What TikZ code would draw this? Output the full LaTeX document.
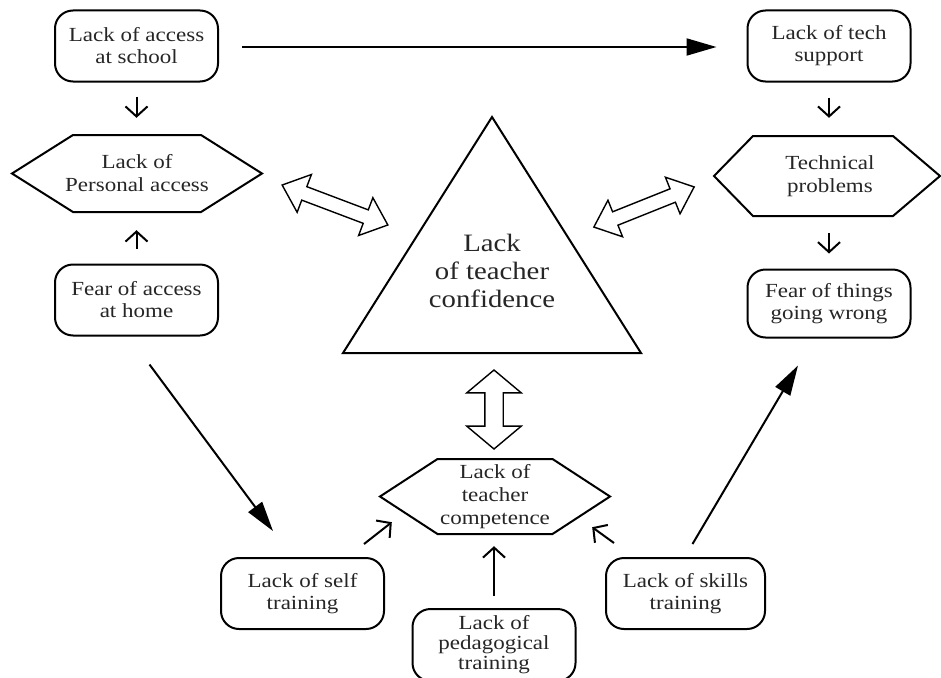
\documentclass[tikz,border=0pt]{standalone}
\usepackage{fontspec}
\setmainfont{Liberation Serif}[FakeStretch=1.15]
\usetikzlibrary{arrows.meta,calc,shapes.arrows}
\definecolor{txt}{HTML}{262626}
\begin{document}
\begin{tikzpicture}[x=1pt,y=-1pt,
  box/.style={draw, line width=2pt, rounded corners=18pt, minimum width=163pt, minimum height=71pt, align=center, font=\fontsize{20}{22}\selectfont, text=txt, inner sep=0pt},
  hextext/.style={align=center, font=\fontsize{20}{23}\selectfont, text=txt, inner sep=0pt},
  hexline/.style={line width=2pt, line join=miter},
  smallarr/.style={line width=2pt, -{Straight Barb[length=10pt,width=22pt]}},
  bigarr/.style={line width=2pt, -{Triangle[length=30pt,width=17pt]}},
  dblarr/.style={double arrow, draw, line width=1.4pt, fill=white, inner xsep=0pt, text width=0pt, text height=0pt, text depth=0pt}
]
\useasboundingbox (0,0) rectangle (941,677);

% rounded boxes
\node[box] (school) at (136.5,46) {Lack of access\\at school};
\node[box] (tech) at (829,46) {Lack of tech\\support};
\node[box] (home) at (136.5,300) {Fear of access\\at home};
\node[box, minimum height=68pt] (fear) at (829,303.5) {Fear of things\\going wrong};
\node[box] (selft) at (302.5,593.5) {Lack of self\\training};
\node[box, minimum width=159pt] (skills) at (685.5,593.5) {Lack of skills\\training};
\node[box, minimum height=72pt, font=\fontsize{20}{20}\selectfont] (ped) at (494,645) {Lack of\\pedagogical\\training};

% hexagons
\node[hextext, minimum width=250pt, minimum height=77pt] (pa) at (137,173.5) {Lack of\\Personal access};
\draw[hexline] ($(pa)+(-125,0)$) -- ($(pa)+(-64,-38.5)$) -- ($(pa)+(64,-38.5)$) -- ($(pa)+(125,0)$) -- ($(pa)+(64,38.5)$) -- ($(pa)+(-64,38.5)$) -- cycle;

\node[hextext, minimum width=226pt, minimum height=80pt] (tp) at (830,176) {Technical\\problems};
\draw[hexline] ($(tp)+(-116,0)$) -- ($(tp)+(-77,-40)$) -- ($(tp)+(63,-40)$) -- ($(tp)+(110,0)$) -- ($(tp)+(63,40)$) -- ($(tp)+(-77,40)$) -- cycle;

\node[hextext, minimum width=230pt, minimum height=75pt] (tc) at (495,496.5) {Lack of\\teacher\\competence};
\draw[hexline] ($(tc)+(-115,0)$) -- ($(tc)+(-57.5,-37.5)$) -- ($(tc)+(57.5,-37.5)$) -- ($(tc)+(115,0)$) -- ($(tc)+(57.5,37.5)$) -- ($(tc)+(-57.5,37.5)$) -- cycle;

% triangle
\coordinate (tA) at (343,353);
\coordinate (tB) at (641,353);
\coordinate (tC) at (492,117);
\draw[hexline] (tA) -- (tB) -- (tC) -- cycle;
\node[align=center, font=\fontsize{25}{28}\selectfont, text=txt, inner sep=0pt] (conf) at (492,271) {Lack\\of teacher\\confidence};

% double block arrows
\node[dblarr, inner ysep=6.5pt, minimum height=113pt, minimum width=39pt, double arrow head extend=13pt, double arrow tip angle=81, rotate=-20.7] (d1) at (335,205) {};
\node[dblarr, inner ysep=6.5pt, minimum height=108pt, minimum width=38pt, double arrow head extend=12.5pt, double arrow tip angle=81, rotate=21.8] (d2) at (644,207) {};
\node[dblarr, inner ysep=8.5pt, minimum height=79pt, minimum width=53pt, double arrow head extend=18pt, double arrow tip angle=100, rotate=90] (d3) at (494,409.5) {};

% connectors
\draw[bigarr, shorten <=23pt, shorten >=30pt] ($(school.east)+(0,1)$) -- ($(tech.west)+(0,1)$);
\draw[smallarr, shorten <=14pt, shorten >=17pt] (school.south) -- (school.south |- pa.north);
\draw[smallarr, shorten <=15pt, shorten >=18pt] (home.north) -- (home.north |- pa.south);
\draw[smallarr, shorten <=15pt, shorten >=18pt] (tech.south) -- (tech.south |- tp.north);
\draw[smallarr, shorten <=17pt, shorten >=15pt] (fear.north |- tp.south) -- (fear.north);
\draw[bigarr] ($(home.south)+(13,28)$) -- ($(selft.north west)+(53,-26)$);
\draw[smallarr] ($(selft.north east)+(-21,-13)$) -- ($(tc.south west)+(12,-12)$);
\draw[smallarr, shorten <=12pt, shorten >=12pt] (ped.north) -- (ped.north |- tc.south);
\draw[smallarr] ($(skills.north west)+(9,-14)$) -- ($(tc.south east)+(-18,-7)$);
\draw[bigarr] ($(skills.north)+(7,-13)$) -- ($(fear.south)+(-31,27)$);
\end{tikzpicture}
\end{document}
